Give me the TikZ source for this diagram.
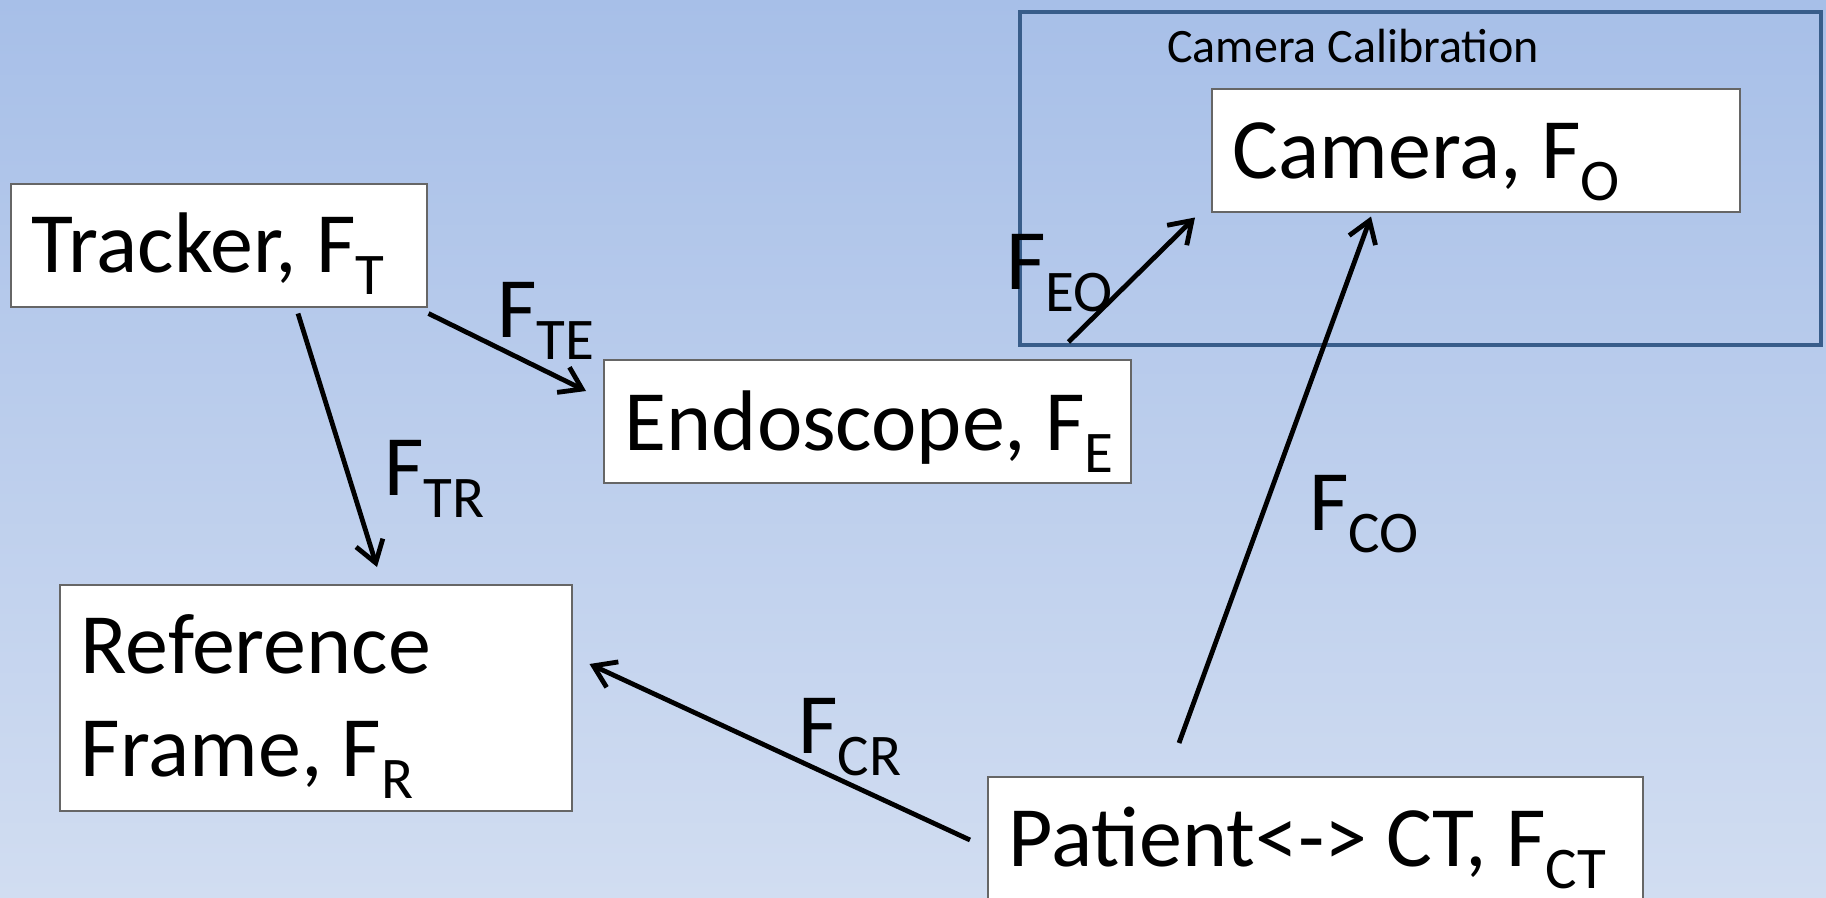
\documentclass[tikz,border=0pt]{standalone}
\usepackage{fontspec}
\setmainfont{Carlito}
\usetikzlibrary{arrows.meta,calc}
% lowered, smaller index letters as used for the frame names
\newcommand\subs[1]{\raisebox{-22pt}{\fontsize{59}{59}\selectfont #1}}
% large slide text with a fixed word space
\newcommand\bigtext{\fontsize{86}{103}\selectfont\frenchspacing\spaceskip=0.22em\relax}
% left-aligned text line of a fixed width
\newcommand\lline[2]{\makebox[#1][l]{#2}}
\definecolor{bgtop}{HTML}{A7BFE8}
\definecolor{bgbottom}{HTML}{D1DDF1}
\definecolor{framecol}{HTML}{385D8A}
\begin{document}
\begin{tikzpicture}[x=1pt,y=-1pt,
  box/.style={draw=black!60, line width=1.5pt, fill=white, anchor=north west,
    inner xsep=21pt, inner ysep=0pt, font=\bigtext},
  lbl/.style={anchor=base west, inner sep=0pt, font=\bigtext},
  link/.style={line width=4.8pt, -{Straight Barb[length=21pt,width=28pt]}}]

% slide background
\path[use as bounding box, top color=bgtop, bottom color=bgbottom] (0,0) rectangle (1826,897);
\clip (0,0) rectangle (1826,897);

% calibration group
\node[draw=framecol, line width=4pt, minimum width=801pt, minimum height=333pt,
      anchor=north west, inner sep=0pt] (calib) at (1018,10) {};
\node[anchor=base west, inner sep=0pt, font=\fontsize{48}{48}\selectfont]
      (calibtitle) at (1167,62) {Camera Calibration};

% coordinate frames
\node[box, text height=89pt, text depth=34pt] (trk) at (10,183)
      {\lline{374pt}{Tracker, F\subs{T}}};
\node[box, text height=91pt, text depth=32pt] (endo) at (603,359)
      {\lline{485pt}{Endoscope, F\subs{E}}};
\node[box, text height=90pt, text depth=33pt] (cam) at (1211,88)
      {\lline{486pt}{Camera, F\subs{O}}};
\node[box, text height=192pt, text depth=34pt] (ref) at (59,584)
      {\lline{470pt}{\vbox{\baselineskip=103pt\hbox{Reference}\hbox{Frame, F\subs{R}}}}};
\node[box, text height=90pt, text depth=40pt] (pat) at (987,776)
      {\lline{613pt}{Patient<-> CT, F\subs{CT}}};

% transformations
\draw[link] ($(trk.south west)+(288,6)$) -- ($(ref.north west)+(318,-17)$);
\draw[link] ($(trk.south east)+(1,6)$) -- ($(endo.north west)+(-17,32)$);
\draw[link] ($(endo.north east)+(-63,-17)$) -- ($(cam.south west)+(-16,5)$);
\draw[link] ($(pat.north west)+(192,-33)$) -- ($(cam.south west)+(160,4)$);
\draw[link] ($(pat.north west)+(-17,64)$) -- ($(ref.north east)+(17,80)$);

% transformation names
\node[lbl] (lTE) at (497,337) {F\subs{TE}};
\node[lbl] (lTR) at (384,495) {F\subs{TR}};
\node[lbl] (lEO) at (1006,289) {F\subs{EO}};
\node[lbl] (lCO) at (1309,530) {F\subs{CO}};
\node[lbl] (lCR) at (798,753) {F\subs{CR}};
\end{tikzpicture}
\end{document}
